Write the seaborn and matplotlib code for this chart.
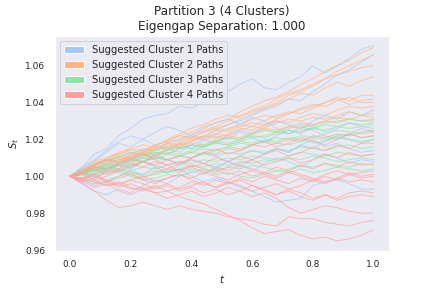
import numpy as np
import pandas as pd
import matplotlib
matplotlib.use('Agg')
import matplotlib.pyplot as plt
from matplotlib.patches import Patch
import seaborn as sns

#time grid of the simulated paths
t = np.linspace(0, 1, 26)

cluster_names = ['Suggested Cluster 1 Paths', 'Suggested Cluster 2 Paths',
                 'Suggested Cluster 3 Paths', 'Suggested Cluster 4 Paths']

#paths (S_t at each t)
cluster1_paths = [
    [1.000, 1.005, 1.012, 1.015, 1.022, 1.026, 1.031, 1.033, 1.034, 1.038, 1.037, 1.040, 1.041, 1.046, 1.050, 1.053, 1.048, 1.047, 1.051, 1.054, 1.060, 1.056, 1.060, 1.064, 1.069, 1.071],
    [1.000, 1.003, 1.006, 1.009, 1.008, 1.012, 1.015, 1.014, 1.018, 1.020, 1.022, 1.021, 1.025, 1.028, 1.030, 1.033, 1.036, 1.038, 1.042, 1.041, 1.046, 1.050, 1.055, 1.058, 1.062, 1.066],
    [1.000, 0.997, 1.002, 1.006, 1.004, 1.009, 1.012, 1.010, 1.015, 1.013, 1.017, 1.020, 1.018, 1.022, 1.025, 1.023, 1.027, 1.030, 1.028, 1.026, 1.030, 1.033, 1.031, 1.035, 1.033, 1.036],
    [1.000, 1.004, 1.008, 1.013, 1.018, 1.016, 1.020, 1.017, 1.014, 1.018, 1.015, 1.019, 1.022, 1.020, 1.024, 1.021, 1.018, 1.022, 1.025, 1.023, 1.027, 1.024, 1.026, 1.029, 1.027, 1.028],
    [1.000, 0.998, 0.995, 0.997, 1.000, 1.003, 1.001, 1.005, 1.002, 1.006, 1.009, 1.007, 1.004, 1.008, 1.011, 1.014, 1.012, 1.015, 1.013, 1.017, 1.015, 1.019, 1.022, 1.020, 1.018, 1.020],
    [1.000, 1.002, 1.005, 1.003, 1.007, 1.010, 1.008, 1.012, 1.009, 1.006, 1.010, 1.013, 1.011, 1.008, 1.005, 1.009, 1.012, 1.015, 1.013, 1.017, 1.020, 1.016, 1.018, 1.015, 1.013, 1.014],
    [1.000, 1.002, 0.999, 1.003, 1.006, 1.004, 1.008, 1.005, 1.002, 1.004, 1.000, 0.997, 0.999, 0.997, 0.994, 0.992, 0.989, 0.986, 0.987, 0.988, 0.995, 0.997, 0.998, 0.996, 0.993, 0.993],
    [1.000, 0.996, 0.992, 0.990, 0.993, 0.991, 0.995, 0.998, 0.996, 1.000, 1.003, 1.001, 1.005, 1.008, 1.006, 1.003, 1.007, 1.010, 1.008, 1.005, 1.009, 1.012, 1.010, 1.007, 1.009, 1.008],
    [1.000, 1.005, 1.009, 1.014, 1.019, 1.022, 1.020, 1.024, 1.027, 1.025, 1.022, 1.026, 1.029, 1.031, 1.028, 1.032, 1.030, 1.026, 1.023, 1.027, 1.025, 1.022, 1.020, 1.023, 1.026, 1.024],
]
cluster2_paths = [
    [1.000, 1.003, 1.007, 1.009, 1.012, 1.014, 1.013, 1.017, 1.019, 1.022, 1.024, 1.027, 1.029, 1.031, 1.035, 1.038, 1.041, 1.043, 1.046, 1.050, 1.053, 1.057, 1.060, 1.063, 1.067, 1.070],
    [1.000, 1.002, 1.005, 1.008, 1.010, 1.009, 1.013, 1.015, 1.018, 1.020, 1.023, 1.025, 1.027, 1.030, 1.033, 1.035, 1.037, 1.040, 1.044, 1.046, 1.049, 1.053, 1.057, 1.060, 1.063, 1.066],
    [1.000, 1.004, 1.006, 1.010, 1.012, 1.015, 1.017, 1.016, 1.020, 1.023, 1.026, 1.028, 1.031, 1.033, 1.032, 1.036, 1.038, 1.042, 1.045, 1.047, 1.050, 1.053, 1.055, 1.057, 1.059, 1.060],
    [1.000, 1.001, 1.004, 1.007, 1.009, 1.012, 1.011, 1.014, 1.016, 1.019, 1.021, 1.024, 1.026, 1.028, 1.031, 1.034, 1.037, 1.039, 1.042, 1.045, 1.044, 1.048, 1.051, 1.049, 1.052, 1.054],
    [1.000, 1.003, 1.005, 1.008, 1.011, 1.010, 1.013, 1.015, 1.018, 1.017, 1.020, 1.022, 1.025, 1.024, 1.027, 1.029, 1.028, 1.031, 1.034, 1.036, 1.038, 1.040, 1.043, 1.041, 1.044, 1.044],
    [1.000, 1.002, 1.006, 1.009, 1.008, 1.011, 1.014, 1.016, 1.015, 1.018, 1.021, 1.020, 1.023, 1.026, 1.028, 1.027, 1.030, 1.033, 1.035, 1.034, 1.037, 1.040, 1.042, 1.039, 1.041, 1.042],
    [1.000, 1.004, 1.008, 1.010, 1.013, 1.015, 1.014, 1.017, 1.019, 1.022, 1.021, 1.024, 1.026, 1.025, 1.028, 1.031, 1.033, 1.032, 1.034, 1.037, 1.039, 1.038, 1.041, 1.043, 1.040, 1.040],
    [1.000, 1.001, 1.003, 1.006, 1.008, 1.011, 1.013, 1.012, 1.015, 1.017, 1.019, 1.022, 1.021, 1.023, 1.026, 1.025, 1.028, 1.030, 1.029, 1.032, 1.034, 1.033, 1.036, 1.038, 1.037, 1.038],
    [1.000, 1.003, 1.007, 1.009, 1.010, 1.013, 1.012, 1.015, 1.017, 1.016, 1.019, 1.021, 1.023, 1.022, 1.025, 1.027, 1.026, 1.029, 1.031, 1.030, 1.032, 1.031, 1.033, 1.035, 1.033, 1.034],
    [1.000, 1.002, 1.004, 1.007, 1.009, 1.008, 1.011, 1.013, 1.012, 1.015, 1.017, 1.016, 1.019, 1.021, 1.020, 1.023, 1.025, 1.024, 1.027, 1.026, 1.028, 1.030, 1.029, 1.031, 1.030, 1.030],
    [1.000, 1.002, 1.005, 1.004, 1.007, 1.010, 1.012, 1.011, 1.014, 1.016, 1.018, 1.017, 1.020, 1.022, 1.021, 1.024, 1.026, 1.025, 1.027, 1.029, 1.028, 1.030, 1.032, 1.031, 1.033, 1.032],
]
cluster3_paths = [
    [1.000, 1.002, 1.004, 1.007, 1.006, 1.009, 1.011, 1.013, 1.012, 1.015, 1.017, 1.016, 1.019, 1.021, 1.020, 1.023, 1.025, 1.024, 1.026, 1.028, 1.027, 1.029, 1.030, 1.031, 1.030, 1.031],
    [1.000, 1.003, 1.005, 1.004, 1.007, 1.009, 1.008, 1.011, 1.013, 1.012, 1.014, 1.016, 1.018, 1.017, 1.019, 1.021, 1.022, 1.024, 1.023, 1.025, 1.026, 1.028, 1.027, 1.029, 1.028, 1.029],
    [1.000, 1.001, 1.004, 1.006, 1.008, 1.007, 1.010, 1.012, 1.014, 1.016, 1.015, 1.017, 1.019, 1.018, 1.020, 1.022, 1.021, 1.023, 1.025, 1.024, 1.026, 1.025, 1.027, 1.026, 1.027, 1.026],
    [1.000, 1.002, 1.001, 1.004, 1.006, 1.008, 1.010, 1.009, 1.012, 1.011, 1.013, 1.015, 1.014, 1.016, 1.018, 1.017, 1.019, 1.021, 1.020, 1.022, 1.021, 1.023, 1.025, 1.024, 1.023, 1.024],
    [1.000, 0.999, 1.002, 1.004, 1.003, 1.006, 1.008, 1.010, 1.009, 1.011, 1.013, 1.012, 1.014, 1.016, 1.015, 1.017, 1.019, 1.018, 1.017, 1.019, 1.021, 1.020, 1.022, 1.023, 1.021, 1.022],
    [1.000, 1.003, 1.006, 1.008, 1.011, 1.013, 1.012, 1.014, 1.016, 1.015, 1.017, 1.016, 1.018, 1.017, 1.019, 1.018, 1.020, 1.019, 1.021, 1.020, 1.018, 1.019, 1.021, 1.020, 1.019, 1.020],
    [1.000, 1.002, 1.003, 1.005, 1.007, 1.006, 1.008, 1.010, 1.009, 1.011, 1.010, 1.012, 1.011, 1.013, 1.012, 1.014, 1.013, 1.015, 1.014, 1.016, 1.015, 1.014, 1.016, 1.017, 1.015, 1.016],
    [1.000, 1.001, 1.000, 1.002, 1.004, 1.003, 1.005, 1.004, 1.006, 1.008, 1.007, 1.009, 1.008, 1.010, 1.009, 1.011, 1.010, 1.009, 1.011, 1.013, 1.012, 1.011, 1.013, 1.012, 1.011, 1.012],
    [1.000, 0.999, 0.997, 0.998, 1.000, 1.002, 1.001, 1.003, 1.002, 1.004, 1.006, 1.005, 1.007, 1.006, 1.008, 1.007, 1.009, 1.008, 1.010, 1.009, 1.011, 1.010, 1.008, 1.009, 1.010, 1.009],
    [1.000, 1.002, 1.004, 1.003, 1.002, 1.000, 0.998, 0.999, 1.001, 1.000, 1.002, 1.004, 1.003, 1.005, 1.004, 1.006, 1.005, 1.003, 1.004, 1.006, 1.005, 1.007, 1.006, 1.005, 1.007, 1.006],
    [1.000, 1.001, 1.003, 1.005, 1.004, 1.002, 1.000, 1.001, 1.003, 1.002, 1.004, 1.003, 1.001, 1.002, 1.000, 0.999, 1.001, 1.003, 1.002, 1.004, 1.002, 1.003, 1.005, 1.004, 1.003, 1.004],
]
cluster4_paths = [
    [1.000, 1.002, 1.005, 1.004, 1.007, 1.009, 1.008, 1.006, 1.009, 1.011, 1.010, 1.013, 1.012, 1.015, 1.014, 1.017, 1.016, 1.018, 1.020, 1.019, 1.022, 1.021, 1.023, 1.022, 1.024, 1.025],
    [1.000, 0.998, 1.001, 1.003, 1.006, 1.005, 1.008, 1.011, 1.009, 1.007, 1.010, 1.013, 1.015, 1.012, 1.014, 1.017, 1.019, 1.016, 1.018, 1.021, 1.019, 1.017, 1.020, 1.023, 1.021, 1.022],
    [1.000, 1.003, 1.006, 1.009, 1.007, 1.010, 1.012, 1.009, 1.006, 1.008, 1.005, 1.007, 1.010, 1.008, 1.011, 1.009, 1.012, 1.014, 1.011, 1.013, 1.016, 1.014, 1.017, 1.015, 1.018, 1.018],
    [1.000, 1.001, 0.998, 1.000, 1.003, 1.001, 0.999, 1.002, 1.004, 1.003, 1.006, 1.004, 1.002, 1.005, 1.007, 1.009, 1.006, 1.008, 1.010, 1.007, 1.009, 1.012, 1.010, 1.013, 1.011, 1.012],
    [1.000, 0.997, 0.999, 1.002, 1.004, 1.007, 1.005, 1.008, 1.006, 1.003, 1.005, 1.002, 1.004, 1.001, 1.003, 1.000, 1.002, 1.005, 1.003, 1.006, 1.004, 1.007, 1.005, 1.008, 1.006, 1.007],
    [1.000, 1.002, 1.000, 0.997, 0.999, 1.001, 0.998, 0.996, 0.999, 1.001, 0.999, 1.002, 1.000, 0.998, 1.001, 1.003, 1.001, 0.999, 1.002, 1.000, 0.998, 1.001, 1.003, 1.001, 1.002, 1.003],
    [1.000, 0.998, 0.996, 0.997, 0.994, 0.996, 0.993, 0.995, 0.992, 0.994, 0.997, 0.995, 0.998, 0.996, 0.999, 0.997, 1.000, 0.998, 0.996, 0.999, 0.997, 1.000, 0.998, 1.001, 0.999, 1.000],
    [1.000, 0.999, 1.001, 0.998, 0.996, 0.998, 1.000, 0.997, 0.999, 1.001, 0.998, 0.996, 0.994, 0.997, 0.995, 0.992, 0.994, 0.996, 0.993, 0.995, 0.998, 0.996, 0.999, 0.997, 0.998, 0.997],
    [1.000, 0.997, 0.994, 0.996, 0.992, 0.990, 0.993, 0.991, 0.988, 0.990, 0.992, 0.989, 0.991, 0.994, 0.992, 0.995, 0.993, 0.990, 0.992, 0.989, 0.987, 0.990, 0.988, 0.991, 0.992, 0.991],
    [1.000, 1.001, 0.998, 0.995, 0.997, 0.994, 0.992, 0.994, 0.996, 0.993, 0.995, 0.997, 0.994, 0.996, 0.998, 0.995, 0.992, 0.990, 0.993, 0.991, 0.988, 0.990, 0.987, 0.989, 0.990, 0.989],
    [1.000, 0.998, 1.001, 0.997, 0.995, 0.998, 0.996, 0.993, 0.995, 0.992, 0.994, 0.991, 0.993, 0.990, 0.992, 0.989, 0.991, 0.988, 0.983, 0.980, 0.982, 0.984, 0.983, 0.981, 0.980, 0.980],
    [1.000, 0.996, 0.992, 0.987, 0.983, 0.984, 0.986, 0.984, 0.982, 0.984, 0.982, 0.981, 0.980, 0.978, 0.977, 0.976, 0.974, 0.973, 0.978, 0.977, 0.977, 0.975, 0.974, 0.973, 0.975, 0.976],
    [1.000, 0.999, 0.997, 0.995, 0.996, 0.993, 0.994, 0.991, 0.992, 0.989, 0.987, 0.985, 0.982, 0.979, 0.976, 0.972, 0.969, 0.970, 0.971, 0.968, 0.966, 0.967, 0.965, 0.966, 0.968, 0.971],
    [1.000, 1.002, 1.004, 1.001, 1.003, 1.005, 1.008, 1.006, 1.004, 1.007, 1.009, 1.007, 1.005, 1.003, 1.006, 1.004, 1.002, 1.000, 1.003, 1.001, 0.999, 0.997, 0.999, 1.002, 1.000, 1.001],
]

#long format dataframe for seaborn
rows = []
for name, paths in zip(cluster_names, [cluster1_paths, cluster2_paths, cluster3_paths, cluster4_paths]):
    for i, p in enumerate(paths):
        assert len(p) == len(t), (name, i, len(p))
        for tt, s in zip(t, p):
            rows.append((name, name + str(i), tt, s))
df = pd.DataFrame(rows, columns=['cluster', 'path', 't', 'S'])

sns.set_theme(style='dark')
colours = sns.color_palette('pastel')[:4]

fig, ax = plt.subplots(figsize=(6, 4), dpi=72)
fig.subplots_adjust(left=0.127, right=0.9, top=0.876, bottom=0.13)
sns.lineplot(data=df, x='t', y='S', hue='cluster', units='path', estimator=None,
             palette=colours, lw=1, alpha=0.65, legend=False, ax=ax)

ax.set_title('Partition 3 (4 Clusters)\nEigengap Separation: 1.000', fontsize=12)
ax.set_xlabel('$t$', fontsize=10)
ax.set_ylabel('$S_t$', fontsize=10)
ax.tick_params(labelsize=9)

handles = [Patch(facecolor=c, label=n) for c, n in zip(colours, cluster_names)]
ax.legend(handles=handles, loc='upper left', fontsize=10)

plt.savefig('out.png', dpi=72)
